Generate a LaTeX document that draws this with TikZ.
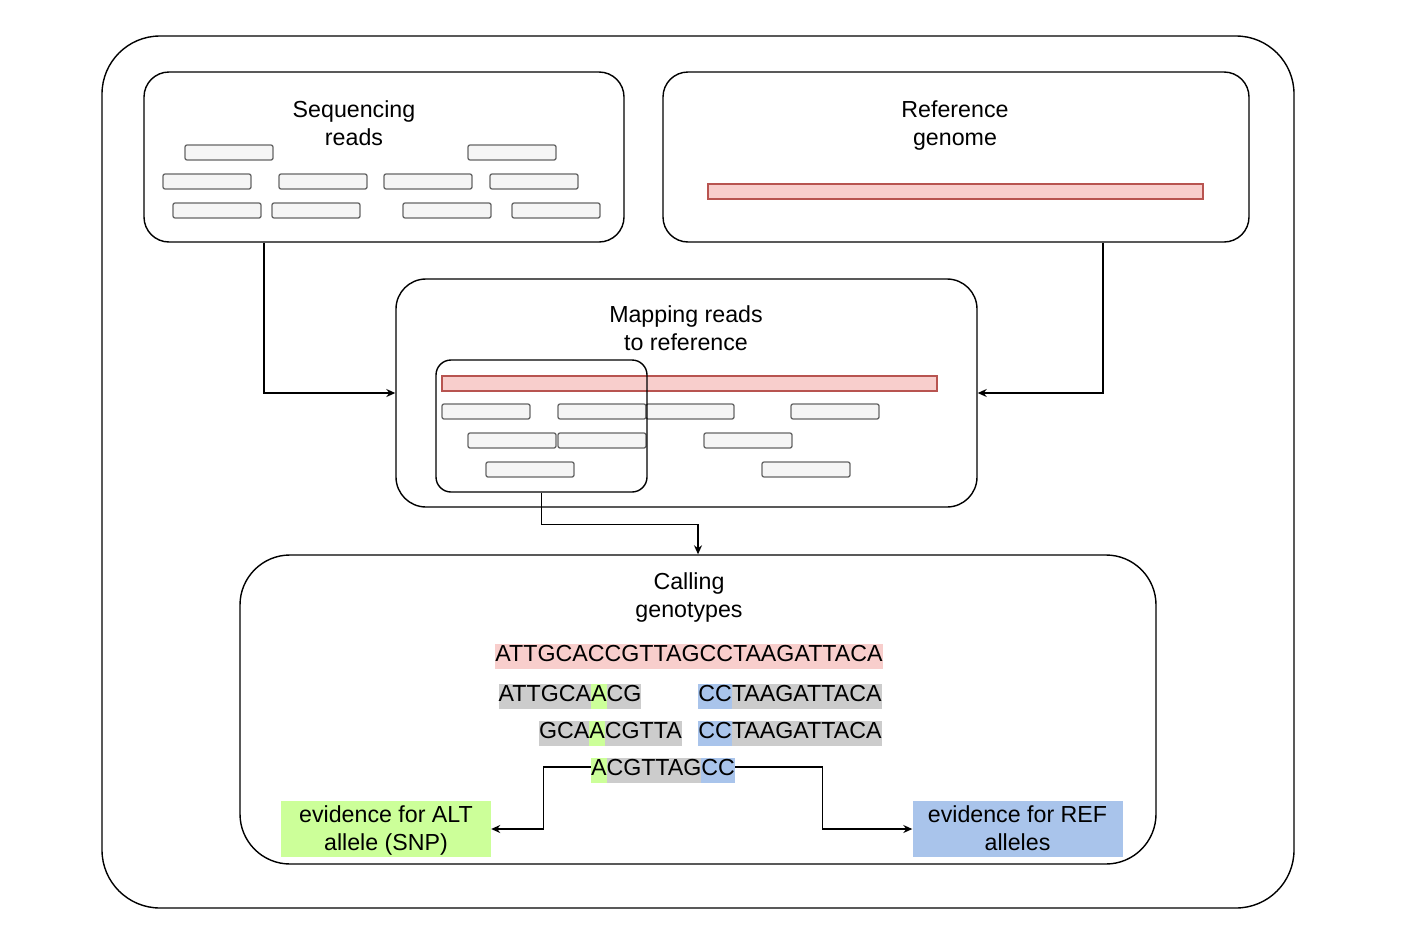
\documentclass[tikz,border=0pt]{standalone}
\usepackage{fontspec}
\setmainfont{Liberation Sans}
\usetikzlibrary{arrows.meta}
\definecolor{readfill}{HTML}{F5F5F5}
\definecolor{readdraw}{HTML}{666666}
\definecolor{reffill}{HTML}{F8CECC}
\definecolor{refdraw}{HTML}{B85450}
\definecolor{altg}{HTML}{CCFF99}
\definecolor{refb}{HTML}{A9C4EB}
\definecolor{seqgray}{HTML}{CCCCCC}
\newcommand\hlseg[2]{{\setlength{\fboxsep}{0pt}\colorbox{#1}{\strut #2}}}
\tikzset{
  panel/.style={draw=black, line width=1.4pt, rounded corners=#1, inner sep=0pt},
  ttl/.style={align=center, font=\fontsize{23.2}{28}\selectfont, inner sep=0pt},
  readbox/.style={draw=readdraw, fill=readfill, rounded corners=2pt, line width=1.3pt},
  refbar/.style={draw=refdraw, fill=reffill, line width=1.1pt},
  seqtxt/.style={font=\fontsize{23.2}{25}\selectfont, inner sep=0pt},
  evid/.style={align=center, font=\fontsize{23.2}{28}\selectfont, inner sep=0pt, minimum width=210pt, minimum height=56pt},
  arr/.style={draw=black, line width=1.4pt, -{Stealth[length=9pt,width=8pt]}}
}
\begin{document}
\begin{tikzpicture}[x=1pt,y=-1pt]
\useasboundingbox (0,0) rectangle (1424,945);
% outer
\node[panel=58pt, minimum width=1192pt, minimum height=872pt] (outer) at (698,472) {};
% panels
\node[panel=25pt, minimum width=480pt, minimum height=170pt] (seq) at (384,157) {};
\node[panel=25pt, minimum width=586pt, minimum height=170pt] (ref) at (956,157) {};
\node[panel=30pt, minimum width=581pt, minimum height=228pt] (map) at (686.5,393) {};
\node[panel=50pt, minimum width=916pt, minimum height=309pt] (call) at (698,709.5) {};
% titles
\node[ttl] (seqt) at (354,125.4) {\strut Sequencing\\\strut reads};
\node[ttl] (reft) at (955,125.6) {\strut Reference\\\strut genome};
\node[ttl] (mapt) at (686,330.4) {\strut Mapping reads\\\strut to reference};
\node[ttl] (callt) at (689,598.2) {\strut Calling\\\strut genotypes};
% reads in sequencing panel
\foreach \x/\y in {185/145,468/145,163/174,279/174,384/174,490/174,173/203,272/203,403/203,512/203}
  \draw[readbox] (\x,\y) rectangle ++(88,15);
% reference bar
\draw[refbar] (708,184) rectangle (1203,199);
% mapping panel
\draw[refbar] (442,376) rectangle (937,391);
\foreach \x/\y in {442/404,558/404,646/404,791/404,468/433,558/433,704/433,486/462,762/462}
  \draw[readbox] (\x,\y) rectangle ++(88,15);
\node[panel=15pt, minimum width=211pt, minimum height=132pt] (win) at (541.5,426) {};
% sequences
\node[seqtxt] (r0) at (689,656) {\hlseg{reffill}{ATTGCACCGTTAGCCTAAGATTACA}};
\node[seqtxt] (r1a) at (570,696) {\hlseg{seqgray}{ATTGCA}\hlseg{altg}{A}\hlseg{seqgray}{CG}};
\node[seqtxt] (r1b) at (790,696) {\hlseg{refb}{CC}\hlseg{seqgray}{TAAGATTACA}};
\node[seqtxt] (r2a) at (610.5,733) {\hlseg{seqgray}{GCA}\hlseg{altg}{A}\hlseg{seqgray}{CGTTA}};
\node[seqtxt] (r2b) at (790,733) {\hlseg{refb}{CC}\hlseg{seqgray}{TAAGATTACA}};
\node[seqtxt] (r3) at (663,770) {\hlseg{altg}{A}\hlseg{seqgray}{CGTTAG}\hlseg{refb}{CC}};
% evidence boxes
\node[evid, fill=altg] (alt) at (386,829) {};
\node[evid, fill=refb] (refev) at (1017.5,829) {};
\node[ttl] (altt) at (386,831) {\strut evidence for ALT\\\strut allele (SNP)};
\node[ttl] (reft2) at (1017.5,831) {\strut evidence for REF\\\strut alleles};
% connectors
\draw[arr] ([xshift=-120pt]seq.south) |- (map.west);
\draw[arr] ([xshift=147pt]ref.south) |- (map.east);
\draw[arr] (win.south) -- ++(0,32) -| (call.north);
\draw[arr] ([yshift=3pt]r3.west) -| ([xshift=52pt]alt.east) -- (alt.east);
\draw[arr] ([yshift=3pt]r3.east) -| ([xshift=-90pt]refev.west) -- (refev.west);
\end{tikzpicture}
\end{document}
